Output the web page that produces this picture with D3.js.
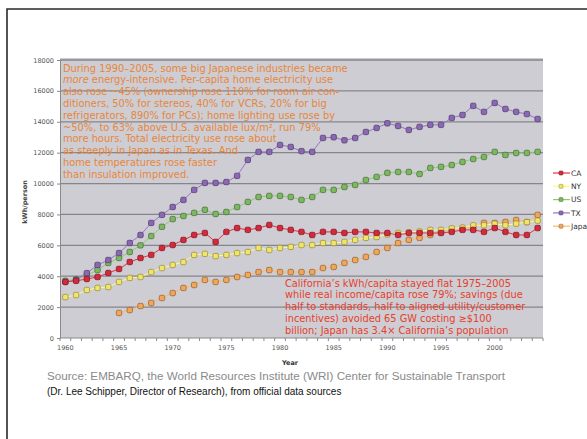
<!DOCTYPE html>
<html>
<head>
<meta charset="utf-8">
<script src="https://cdn.jsdelivr.net/npm/d3@7"></script>
<style>
  body { margin: 0; background: #fff; }
  svg { display: block; }
</style>
</head>
<body>
<svg id="chart" width="587" height="439"></svg>
<script>
// categories: one per year, 1960-2004
const years = d3.range(1960, 2005);
const yTicks = [0, 2000, 4000, 6000, 8000, 10000, 12000, 14000, 16000, 18000];

// kWh per person
const caValues = [3630, 3700, 3820, 3950, 4210, 4470, 4920, 5180, 5380, 5830,
  6020, 6350, 6670, 6800, 6220, 6870, 7120, 7000, 7120, 7320,
  7120, 7000, 6870, 6670, 6870, 6870, 6800, 6870, 6870, 6800,
  6800, 6670, 6800, 6800, 6800, 6800, 6870, 7000, 7000, 6870,
  7120, 6870, 6670, 6670, 7120];
const nyValues = [2650, 2780, 3110, 3240, 3300, 3630, 3890, 3950, 4270, 4530,
  4730, 4920, 5380, 5450, 5300, 5380, 5500, 5570, 5830, 5700,
  5830, 5900, 6020, 6020, 6150, 6150, 6220, 6350, 6480, 6540,
  6700, 6800, 6850, 6900, 7000, 7000, 7100, 7150, 7300, 7300,
  7400, 7300, 7400, 7500, 7600];
const usValues = [3700, 3800, 4050, 4400, 4860, 5180, 5570, 6000, 6600, 7200,
  7700, 7900, 8100, 8300, 8030, 8160, 8480, 8810, 9130, 9200,
  9200, 9130, 8940, 9130, 9590, 9590, 9780, 9910, 10230, 10430,
  10690, 10750, 10750, 10620, 11010, 11080, 11200, 11400, 11590, 11720,
  12050, 11850, 11980, 11980, 12050];
const txValues = [3630, 3760, 4200, 4730, 5050, 5500, 6150, 6670, 7450, 7970,
  8480, 8940, 9590, 10040, 10040, 10100, 10500, 11530, 12050, 12050,
  12500, 12370, 12100, 12050, 12950, 13000, 12800, 12950, 13340, 13600,
  13900, 13730, 13470, 13670, 13800, 13800, 14250, 14440, 15030, 14640,
  15220, 14830, 14640, 14500, 14180];
const japanValues = [null, null, null, null, null, 1620, 1810, 2070, 2270, 2590,
  2910, 3240, 3430, 3760, 3630, 3760, 3950, 4080, 4270, 4400,
  4270, 4270, 4270, 4270, 4530, 4600, 4860, 5050, 5250, 5570,
  5830, 6150, 6350, 6480, 6670, 6870, 7000, 7120, 7190, 7450,
  7450, 7510, 7640, 7510, 7970];

const seriesNames = ["CA", "NY", "US", "TX", "Japan"];
const seriesValues = [caValues, nyValues, usValues, txValues, japanValues];
const seriesColors = ["#d42a3c", "#f2e46a", "#7cb860", "#8a68b4", "#f2a65a"];
const drawOrder = [4, 1, 2, 3, 0];

const noteJapan = [
  [["During 1990–2005, some big Japanese industries became", false]],
  [["more", true], [" energy-intensive. Per-capita home electricity use", false]],
  [["also rose ~45% (ownership rose 110% for room air con-", false]],
  [["ditioners, 50% for stereos, 40% for VCRs, 20% for big", false]],
  [["refrigerators, 890% for PCs); home lighting use rose by", false]],
  [["~50%, to 63% above U.S. available lux/m², run 79%", false]],
  [["more hours. Total electricity use rose about", false]],
  [["as steeply in Japan as in Texas. And", false]],
  [["home temperatures rose faster", false]],
  [["than insulation improved.", false]]
];
const noteCalifornia = [
  "California’s kWh/capita stayed flat 1975–2005",
  "while real income/capita rose 79%; savings (due",
  "half to standards, half to aligned utility/customer",
  "incentives) avoided 65 GW costing ≥$100",
  "billion; Japan has 3.4× California’s population"
];
const sourceLines = [
  "Source: EMBARQ, the World Resources Institute (WRI) Center for Sustainable Transport",
  "(Dr. Lee Schipper, Director of Research), from official data sources"
];

const svg = d3.select("#chart");

// outer frame (only left and top edges show in the crop)
svg.append("path")
  .attr("d", "M7,439 L7,9 L587,9")
  .attr("fill", "none")
  .attr("stroke", "#2a2a2a")
  .attr("stroke-width", 1.6);

const plotLeft = 60, plotRight = 543, plotTop = 60, plotBottom = 338;

const x = d3.scaleBand().domain(years).range([plotLeft, plotRight]);
const y = d3.scaleLinear().domain([0, 18000]).range([plotBottom, plotTop]);
const cx = d => x(d) + x.bandwidth() / 2;

// plot background
svg.append("rect")
  .attr("x", plotLeft).attr("y", plotTop - 2)
  .attr("width", plotRight - plotLeft).attr("height", plotBottom - plotTop + 2)
  .attr("fill", "#cdcdd3");

// gridlines
svg.append("g").selectAll("line")
  .data(yTicks.filter(d => d > 0))
  .join("line")
  .attr("x1", plotLeft).attr("x2", plotRight)
  .attr("y1", d => y(d)).attr("y2", d => y(d))
  .attr("stroke", "#85858c")
  .attr("stroke-width", 1.3);

// y axis
const yAxis = svg.append("g")
  .attr("transform", `translate(${plotLeft},0)`)
  .call(d3.axisLeft(y).tickValues(yTicks).tickSize(3).tickPadding(3).tickFormat(d3.format("d")));
yAxis.select(".domain").attr("stroke", "#8a8a8a");
yAxis.selectAll(".tick line").attr("stroke", "#8a8a8a");
yAxis.selectAll("text")
  .attr("font-family", "DejaVu Sans")
  .attr("font-size", 6.5)
  .attr("fill", "#555");

// x axis: ticks on category edges, labels every five years
svg.append("line")
  .attr("x1", plotLeft).attr("x2", plotRight)
  .attr("y1", plotBottom).attr("y2", plotBottom)
  .attr("stroke", "#8a8a8a");
svg.append("g").selectAll("line")
  .data(years.concat([null]))
  .join("line")
  .attr("x1", d => d === null ? plotRight : x(d))
  .attr("x2", d => d === null ? plotRight : x(d))
  .attr("y1", plotBottom).attr("y2", plotBottom + 3)
  .attr("stroke", "#8a8a8a");
svg.append("g").selectAll("text")
  .data(years.filter(d => d % 5 === 0))
  .join("text")
  .attr("x", d => cx(d))
  .attr("y", plotBottom + 12)
  .attr("text-anchor", "middle")
  .attr("font-family", "DejaVu Sans")
  .attr("font-size", 6.5)
  .attr("fill", "#555")
  .text(d => d);

// axis titles
svg.append("text")
  .attr("transform", "translate(27,202) rotate(-90)")
  .attr("text-anchor", "middle")
  .attr("font-family", "DejaVu Sans")
  .attr("font-size", 6.5)
  .attr("font-weight", "bold")
  .attr("fill", "#444")
  .text("kWh/person");
svg.append("text")
  .attr("x", 290).attr("y", 365)
  .attr("text-anchor", "middle")
  .attr("font-family", "DejaVu Sans")
  .attr("font-size", 6.5)
  .attr("font-weight", "bold")
  .attr("fill", "#333")
  .text("Year");

// series lines and markers
const line = d3.line()
  .defined(d => d.v !== null)
  .x(d => cx(d.year))
  .y(d => y(d.v));

drawOrder.forEach(i => {
  const pts = years.map((yr, j) => ({ year: yr, v: seriesValues[i][j] }));
  const col = d3.color(seriesColors[i]);
  const g = svg.append("g");
  g.append("path")
    .datum(pts)
    .attr("fill", "none")
    .attr("stroke", col.brighter(0.3))
    .attr("stroke-width", 1)
    .attr("d", line);
  g.selectAll("rect")
    .data(pts.filter(d => d.v !== null))
    .join("rect")
    .attr("x", d => cx(d.year) - 2.7)
    .attr("y", d => y(d.v) - 2.7)
    .attr("width", 5.4).attr("height", 5.4)
    .attr("rx", 1.4)
    .attr("fill", col)
    .attr("stroke", col.darker(1.3))
    .attr("stroke-width", 0.8);
});

// legend
const legend = svg.append("g");
seriesNames.forEach((name, i) => {
  const ly = 173 + i * 13.3;
  const col = d3.color(seriesColors[i]);
  legend.append("line")
    .attr("x1", 553).attr("x2", 570)
    .attr("y1", ly).attr("y2", ly)
    .attr("stroke", col.brighter(0.3))
    .attr("stroke-width", 1.2);
  legend.append("rect")
    .attr("x", 559).attr("y", ly - 2)
    .attr("width", 4).attr("height", 4)
    .attr("rx", 1)
    .attr("fill", col)
    .attr("stroke", col.darker(1.2))
    .attr("stroke-width", 0.6);
  legend.append("text")
    .attr("x", 571).attr("y", ly + 2.6)
    .attr("font-family", "DejaVu Sans")
    .attr("font-size", 7.5)
    .attr("fill", "#333")
    .text(name);
});

// orange note about Japan
const note1 = svg.append("text")
  .attr("font-family", "DejaVu Sans")
  .attr("font-size", 9.85)
  .attr("fill", "#e8863a");
noteJapan.forEach((parts, i) => {
  const row = note1.append("tspan").attr("x", 63).attr("y", 71.5 + i * 11.8);
  parts.forEach(([txt, italic]) => {
    row.append("tspan")
      .attr("font-style", italic ? "italic" : "normal")
      .text(txt);
  });
});

// red note about California
const note2 = svg.append("text")
  .attr("font-family", "DejaVu Sans")
  .attr("font-size", 9.8)
  .attr("fill", "#e6402c");
noteCalifornia.forEach((txt, i) => {
  note2.append("tspan")
    .attr("x", 285).attr("y", 286.5 + i * 11.8)
    .text(txt);
});

// source lines
svg.append("text")
  .attr("x", 47).attr("y", 380)
  .attr("font-family", "Liberation Sans")
  .attr("font-size", 10)
  .attr("fill", "#8a8a8a")
  .attr("textLength", 458)
  .attr("lengthAdjust", "spacingAndGlyphs")
  .text(sourceLines[0]);
svg.append("text")
  .attr("x", 47).attr("y", 394.5)
  .attr("font-family", "Liberation Sans")
  .attr("font-size", 10)
  .attr("fill", "#111")
  .text(sourceLines[1]);
</script>
</body>
</html>
